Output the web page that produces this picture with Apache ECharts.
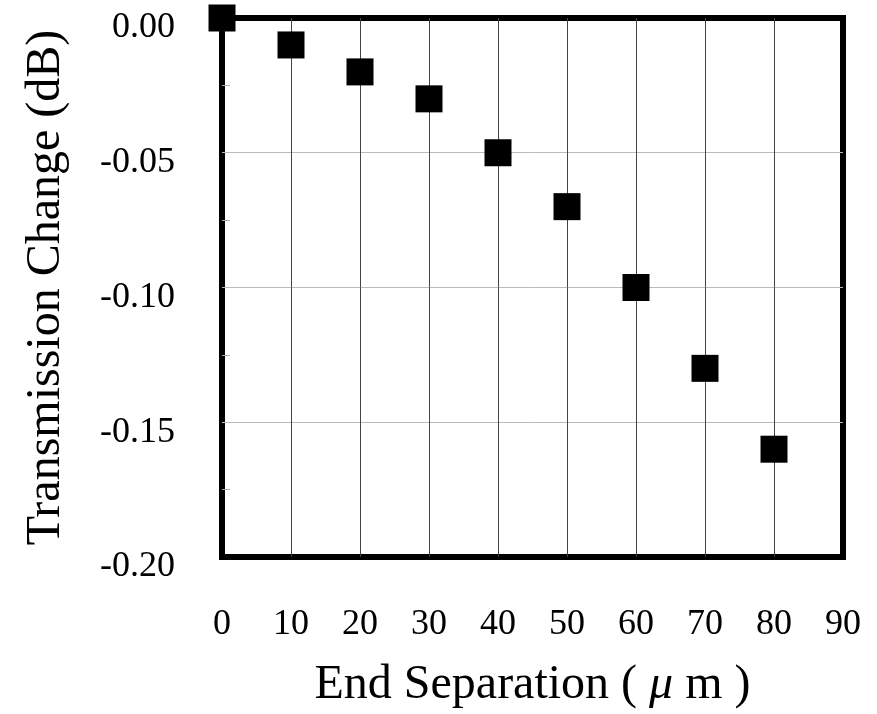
<!DOCTYPE html>
<html>
<head>
<meta charset="utf-8">
<script src="https://cdn.jsdelivr.net/npm/echarts@6/dist/echarts.min.js"></script>
<style>html,body{margin:0;padding:0;background:#fff;}#c{width:877px;height:714px;}</style>
</head>
<body>
<div id="c"></div>
<script>
const separation = [0, 10, 20, 30, 40, 50, 60, 70, 80];
const transmissionChange = [0.00, -0.01, -0.02, -0.03, -0.05, -0.07, -0.10, -0.13, -0.16];
const xName = 'End Separation ( {mu|\u03bc} m )';
const yName = 'Transmission Change (dB)';

const font = 'Liberation Serif, Times New Roman, serif';
const chart = echarts.init(document.getElementById('c'));
chart.setOption({
  animation: false,
  backgroundColor: '#fff',
  grid: { left: 222, top: 18, right: 34, bottom: 152, show: true, borderColor: '#000', borderWidth: 6, backgroundColor: 'transparent' },
  xAxis: {
    type: 'value', min: 0, max: 90, interval: 10,
    name: xName, nameLocation: 'middle', nameGap: 104,
    nameTextStyle: { fontFamily: font, fontSize: 48, color: '#000',
      rich: { mu: { fontFamily: font, fontSize: 48, fontStyle: 'italic', color: '#000' } } },
    axisLine: { show: false },
    axisTick: { show: false },
    axisLabel: { fontFamily: font, fontSize: 36, color: '#000', margin: 50 },
    splitLine: { show: true, showMinLine: false, showMaxLine: false, lineStyle: { color: '#444', width: 1 } }
  },
  yAxis: {
    type: 'value', min: -0.2, max: 0, interval: 0.05,
    name: yName, nameLocation: 'middle', nameGap: 152, nameRotate: 90,
    nameTextStyle: { fontFamily: font, fontSize: 48, color: '#000' },
    axisLine: { show: false },
    axisTick: { show: false, inside: true, length: 8, lineStyle: { color: '#bbb' } },
    minorTick: { show: true, splitNumber: 2, length: 8, lineStyle: { color: '#aaa' } },
    axisLabel: { color: '#000', margin: 47,
      formatter: v => '{a|' + v.toFixed(2) + '}',
      rich: { a: { fontFamily: font, fontSize: 36, color: '#000', padding: [20, 0, 0, 0] } } },
    splitLine: { show: true, showMinLine: false, showMaxLine: false, lineStyle: { color: '#bbb', width: 1 } }
  },
  series: [{
    type: 'scatter',
    symbol: 'rect', symbolSize: 27,
    itemStyle: { color: '#000', opacity: 1 },
    data: separation.map((x, i) => [x, transmissionChange[i]]),
    z: 10
  }]
});
</script>
</body>
</html>
